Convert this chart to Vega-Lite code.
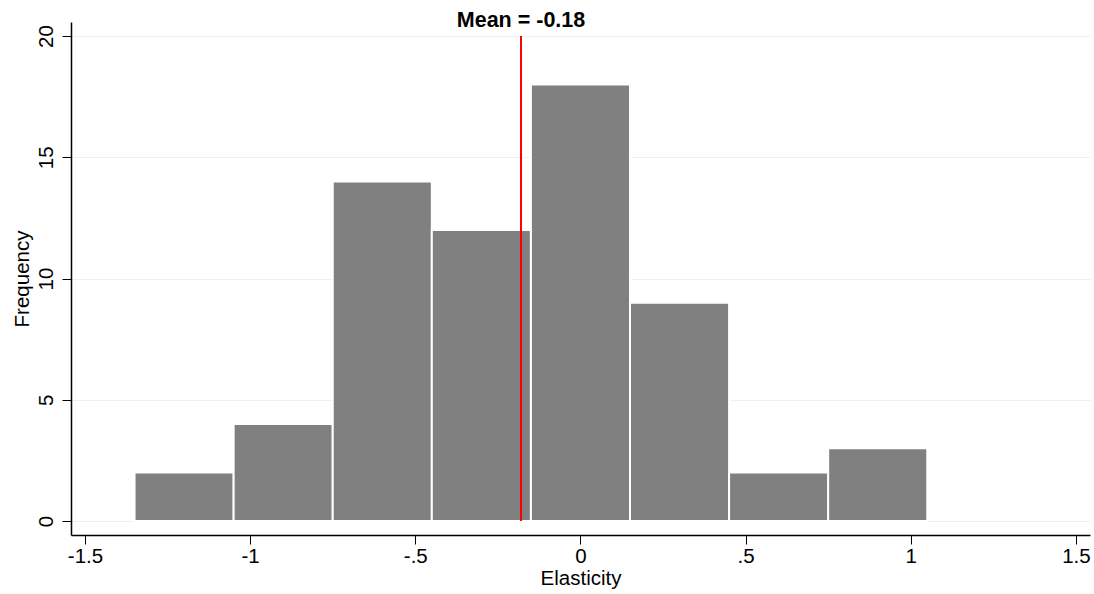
{
  "$schema": "https://vega.github.io/schema/vega-lite/v6.json",
  "width": 1019,
  "height": 513,
  "autosize": {"type": "none"},
  "padding": {"left": 71, "top": 22, "right": 4, "bottom": 59},
  "background": "white",
  "config": {
    "view": {"stroke": null},
    "font": "Liberation Sans"
  },
  "datasets": {
    "bins": [
      {"bin_start": -1.35, "bin_end": -1.05, "count": 2},
      {"bin_start": -1.05, "bin_end": -0.75, "count": 4},
      {"bin_start": -0.75, "bin_end": -0.45, "count": 14},
      {"bin_start": -0.45, "bin_end": -0.15, "count": 12},
      {"bin_start": -0.15, "bin_end": 0.15, "count": 18},
      {"bin_start": 0.15, "bin_end": 0.45, "count": 9},
      {"bin_start": 0.45, "bin_end": 0.75, "count": 2},
      {"bin_start": 0.75, "bin_end": 1.05, "count": 3}
    ],
    "mean": [
      {"mean": -0.18, "low": 0, "high": 20, "label": "Mean = -0.18"}
    ]
  },
  "layer": [
    {
      "data": {"name": "bins"},
      "mark": {"type": "bar", "fill": "#808080", "stroke": "#ffffff", "strokeWidth": 2},
      "encoding": {
        "x": {
          "field": "bin_start", "type": "quantitative",
          "scale": {"domain": [-1.5424, 1.5427], "nice": false, "zero": false},
          "axis": {
            "values": [-1.5, -1, -0.5, 0, 0.5, 1, 1.5],
            "labelExpr": "datum.value == 0.5 ? '.5' : datum.value == -0.5 ? '-.5' : '' + datum.value",
            "title": "Elasticity",
            "grid": false,
            "domainColor": "#000000",
            "domainWidth": 1.5,
            "tickColor": "#000000",
            "tickSize": 9,
            "labelFontSize": 20.5,
            "labelColor": "#000000",
            "labelPadding": 2,
            "titleFontSize": 20.5,
            "titleFontWeight": "normal",
            "titleColor": "#000000",
            "titlePadding": 2
          }
        },
        "x2": {"field": "bin_end"},
        "y": {
          "field": "count", "type": "quantitative",
          "scale": {"domain": [-0.577, 20.577], "nice": false, "zero": false},
          "axis": {
            "values": [0, 5, 10, 15, 20],
            "title": "Frequency",
            "grid": true,
            "gridColor": "#eaf2f3",
            "gridWidth": 1.2,
            "domainColor": "#000000",
            "domainWidth": 1.5,
            "tickColor": "#000000",
            "tickSize": 9,
            "labelAngle": -90,
            "labelAlign": "center",
            "labelBaseline": "alphabetic",
            "labelFontSize": 20.5,
            "labelColor": "#000000",
            "labelPadding": 10,
            "titleFontSize": 20.5,
            "titleFontWeight": "normal",
            "titleColor": "#000000",
            "titlePadding": 4
          }
        },
        "y2": {"datum": 0}
      }
    },
    {
      "data": {"name": "mean"},
      "mark": {"type": "rule", "color": "#ff0000", "strokeWidth": 2},
      "encoding": {
        "x": {"field": "mean", "type": "quantitative"},
        "y": {"field": "low", "type": "quantitative"},
        "y2": {"field": "high"}
      }
    },
    {
      "data": {"name": "mean"},
      "mark": {"type": "text", "fontWeight": "bold", "fontSize": 21.5, "color": "#000000", "align": "center", "baseline": "alphabetic", "dy": -9},
      "encoding": {
        "x": {"field": "mean", "type": "quantitative"},
        "y": {"field": "high", "type": "quantitative"},
        "text": {"field": "label"}
      }
    }
  ]
}
